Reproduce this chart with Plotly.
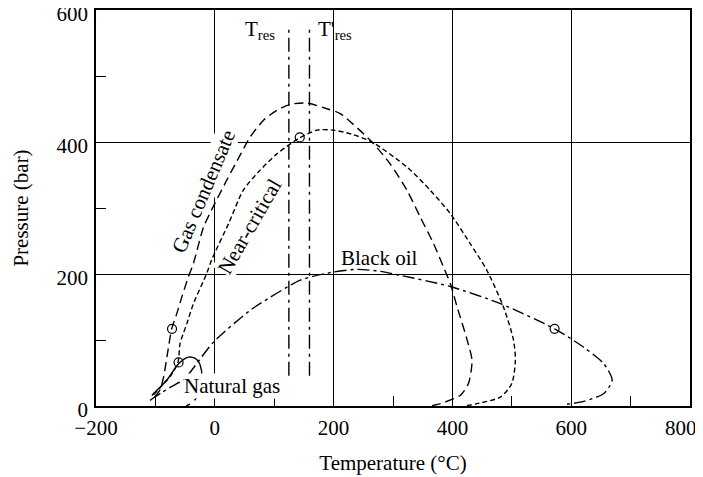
import plotly.graph_objects as go

# ---- data ----
gc_T = [-101, -92, -86, -78, -72.5, -64, -55.6, -44.5, -36, -19, -6, 20, 42.6, 59.5, 82, 104.5, 127, 155, 190, 211, 264.5, 295, 323.5, 346, 368.3, 385, 396.5, 408, 425, 433, 427, 413, 380, 362]
gc_P = [14, 25, 45, 89, 117, 140, 165, 195.5, 216, 271, 296, 342, 380, 407.6, 433, 448, 457, 459, 450, 443, 400, 367, 326.8, 286, 246, 210.6, 185.5, 150, 99.5, 69, 34, 16, 3.6, 0]

nc_T = [-103, -90, -75, -62, -58.5, -47, -36, -14, -5, 23, 48, 76, 104.5, 142.5, 172, 200, 230, 264.5, 323.5, 362.8, 396.5, 430, 458, 486, 503, 506, 500, 481, 441.5, 420]
nc_P = [17, 30, 45, 66, 94.5, 125, 155, 200, 222, 276, 327, 357, 382, 406, 418, 418, 412, 400, 362, 326.8, 291.5, 246, 205.6, 150, 99.5, 69, 34, 13.6, 3.6, 0]

bo_T = [-109, -90, -64, -53, -2, 59.5, 76, 144, 200, 240, 278.5, 312, 396.5, 481, 572, 621, 655, 669, 655, 621, 593]
bo_P = [8.6, 20, 34, 39, 97, 145, 155, 190.6, 203, 207, 204, 198, 181, 155, 117, 89, 64, 39, 19, 7, 2.6]

ng_T = [-106, -95, -81, -61, -44.5, -33, -26, -22]
ng_P = [16, 26, 39, 64, 74, 72, 65, 52]
ngd_T = [-22, -24, -29, -38, -48]
ngd_P = [52, 35, 15, 5, 0]

circ_T = [-72, -61, 143, 572]
circ_P = [117, 66, 407, 117]

tres_T = [124.7, 159.4]
tres_Pmin, tres_Pmax = 46, 572

x_ticks = [-200, 0, 200, 400, 600, 800]
x_ticktext = ["−200", "0", "200", "400", "600", ""]
x_last_label = "800"
x_minor = [-100, 100, 300, 500, 700]
y_ticks = [0, 200, 400, 600]
y_minor = [100, 300, 500]

FONT = "Liberation Serif"
FS = 21

fig = go.Figure()

def curve(T, P, dash, width=1.4, smoothing=0.7):
    fig.add_trace(go.Scatter(x=T, y=P, mode="lines",
                             line=dict(color="black", width=width, dash=dash, shape="spline", smoothing=smoothing),
                             showlegend=False, hoverinfo="skip"))

curve(gc_T, gc_P, "9px,5px")
curve(nc_T, nc_P, "5px,3px")
curve(bo_T, bo_P, "12px,4px,3px,4px")
curve(ng_T, ng_P, "solid")
curve(ngd_T, ngd_P, "6px,6px")

for t in tres_T:
    fig.add_trace(go.Scatter(x=[t, t], y=[tres_Pmin, tres_Pmax], mode="lines",
                             line=dict(color="black", width=1.4, dash="14px,5px,3px,5px"),
                             showlegend=False, hoverinfo="skip"))

fig.add_trace(go.Scatter(x=circ_T, y=circ_P, mode="markers",
                         marker=dict(symbol="circle-open", size=9, color="black", line=dict(width=1.2)),
                         showlegend=False, hoverinfo="skip"))

def label(text, x, y, angle=0, bg="rgba(0,0,0,0)"):
    fig.add_annotation(x=x, y=y, xref="x", yref="y", text=text, showarrow=False,
                       textangle=angle, font=dict(family=FONT, size=FS, color="black"),
                       bgcolor=bg, borderpad=0)

label("Gas condensate", -19.7, 324.5, -67, "white")
label("Near-critical", 59.5, 272, -60, "white")
label("Black oil", 277, 224)
label("Natural gas", 29, 31, 0, "white")
label("T<sub>res</sub>", 76, 569)
label("T'<sub>res</sub>", 202, 569)

# last x tick label, nudged left so it stays inside the page
fig.add_annotation(x=x_ticks[-1], y=0, xref="x", yref="paper", yanchor="top", yshift=-8, xshift=-9,
                   text=x_last_label, showarrow=False,
                   font=dict(family=FONT, size=FS, color="black"))

axis_common = dict(showline=True, linecolor="black", linewidth=1.5, mirror=True,
                   showgrid=True, gridcolor="black", gridwidth=1.3, zeroline=False,
                   ticks="", automargin=False, ticklabeloverflow="allow",
                   tickfont=dict(family=FONT, size=FS, color="black"))

fig.update_xaxes(range=[-200, 800], tickvals=x_ticks, ticktext=x_ticktext,
                 minor=dict(tickvals=x_minor, ticks="inside", ticklen=10, tickwidth=1.3, tickcolor="black", showgrid=False),
                 title=dict(text="Temperature (°C)", font=dict(family=FONT, size=FS, color="black"), standoff=16),
                 ticklabelstandoff=2,
                 **axis_common)
fig.update_yaxes(range=[0, 600], tickvals=y_ticks,
                 minor=dict(tickvals=y_minor, ticks="inside", ticklen=10, tickwidth=1.3, tickcolor="black", showgrid=False),
                 title=dict(text="Pressure (bar)", font=dict(family=FONT, size=FS, color="black"), standoff=22),
                 ticklabelstandoff=2, ticklabelshift=4,
                 **axis_common)

fig.update_layout(width=703, height=477, margin=dict(l=88, r=21, t=2, b=79),
                  plot_bgcolor="white", paper_bgcolor="white",
                  font=dict(family=FONT, size=FS, color="black"))

fig.write_html("out.html")
